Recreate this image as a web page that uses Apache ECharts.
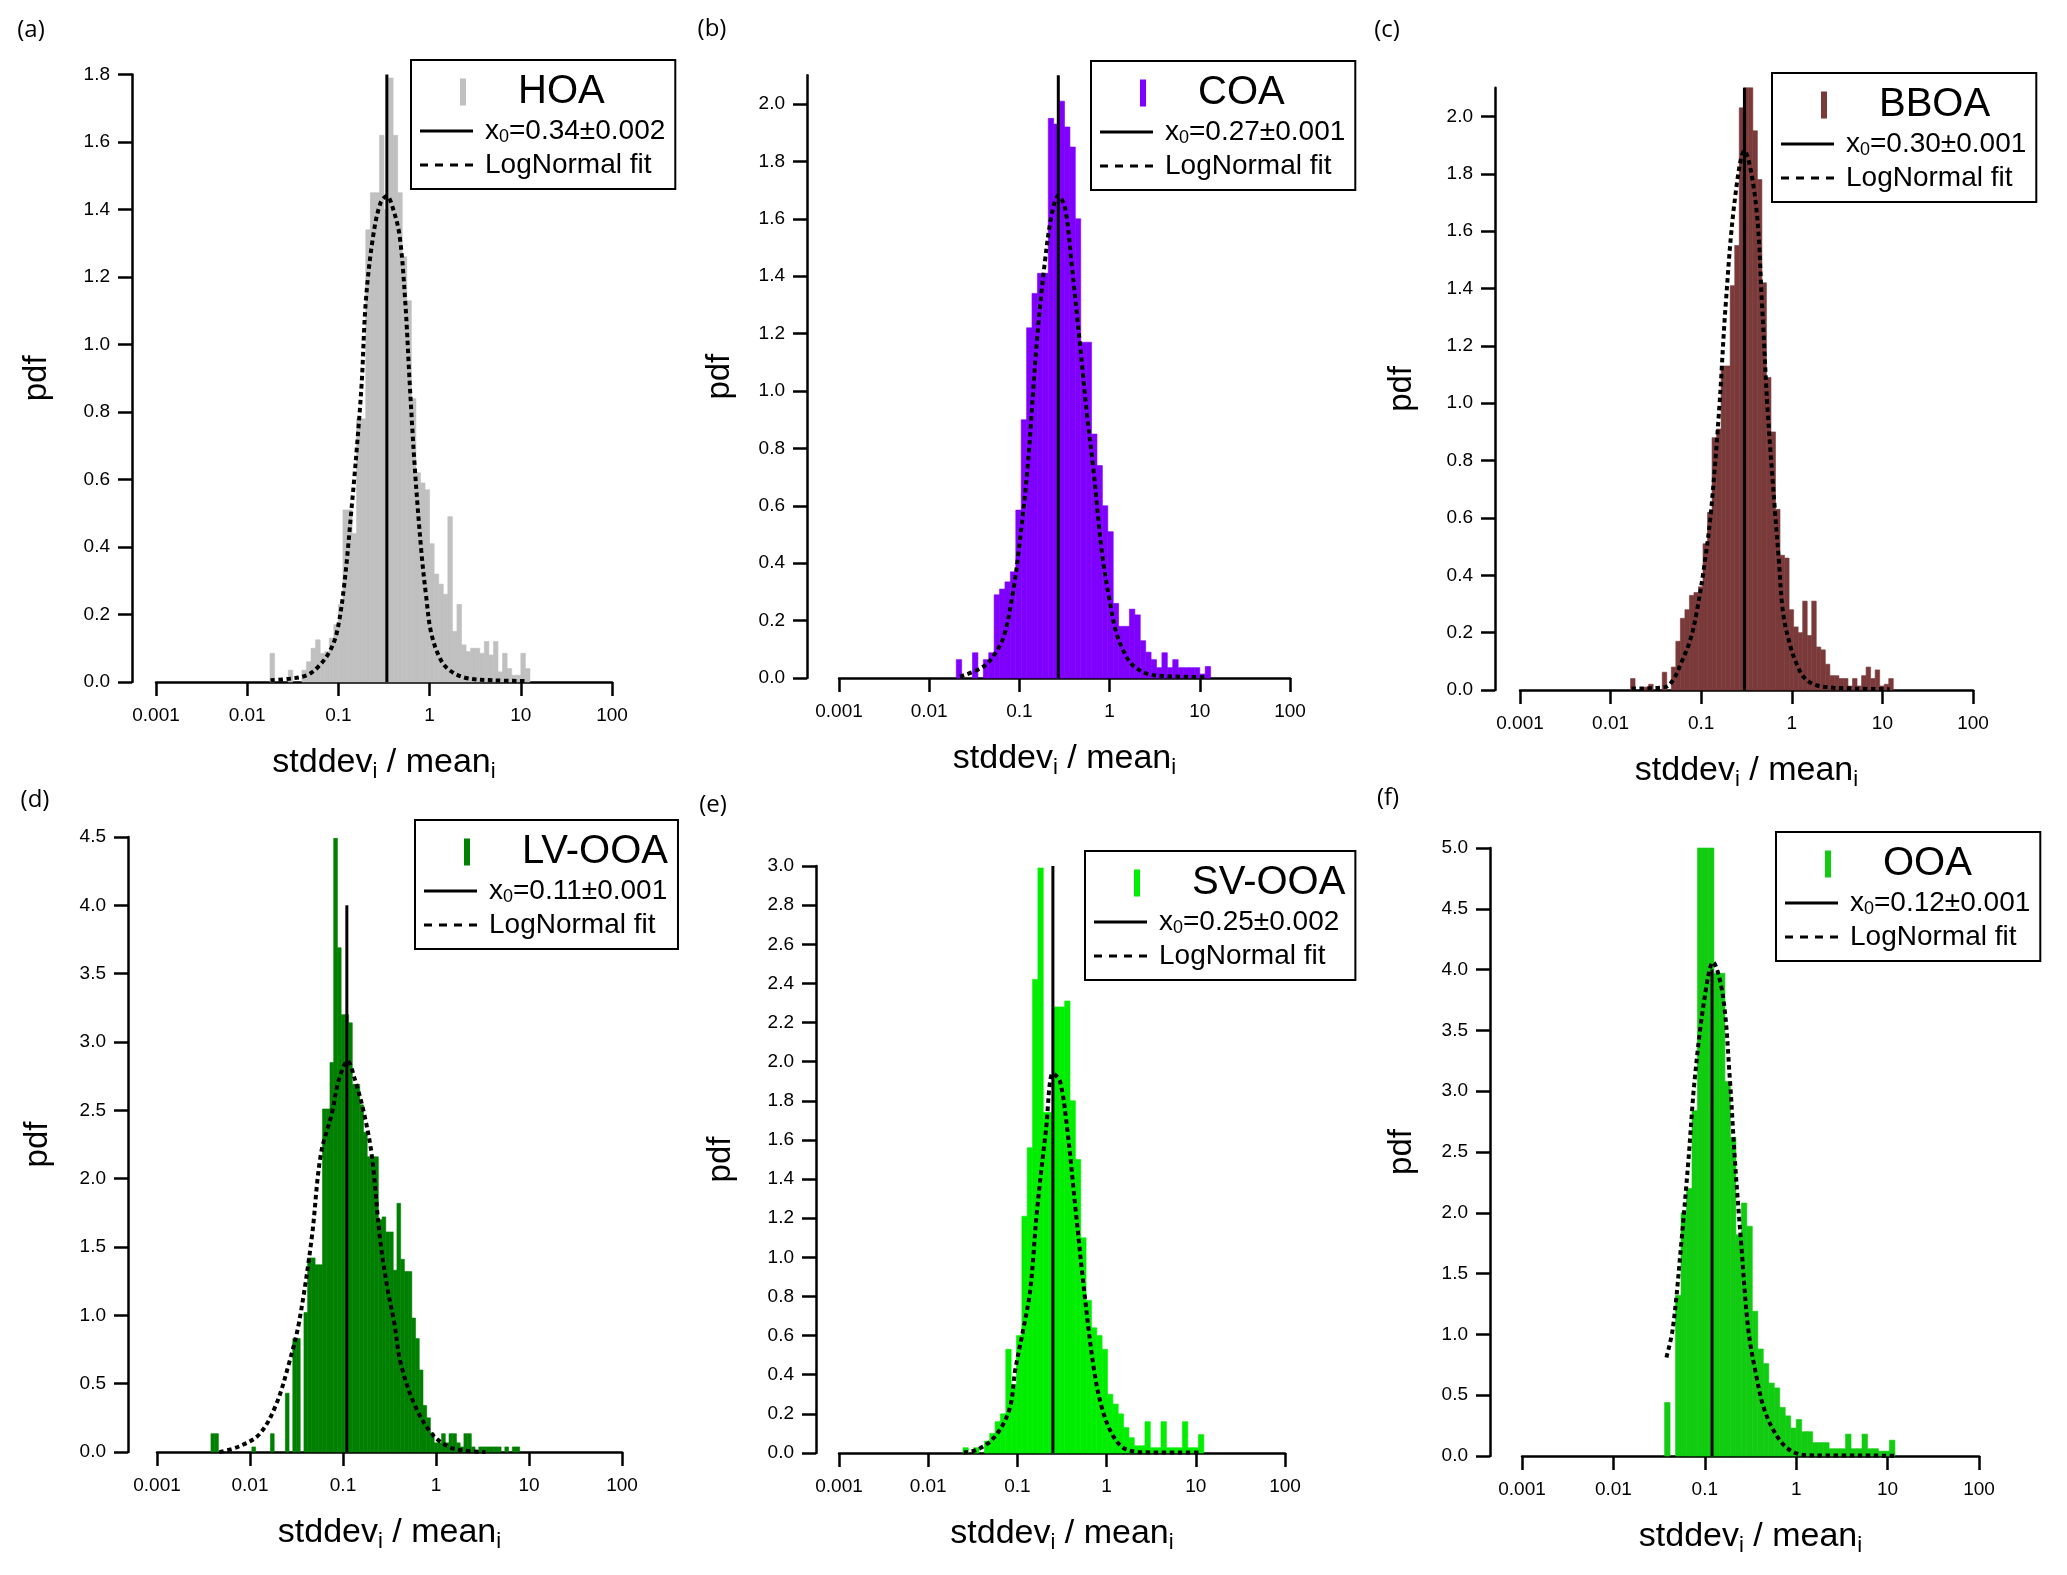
<!DOCTYPE html>
<html><head><meta charset="utf-8">
<script src="https://cdn.jsdelivr.net/npm/echarts@6/dist/echarts.min.js"></script>
<style>html,body{margin:0;padding:0;background:#fff}#c{width:2067px;height:1575px}</style>
</head><body><div id="c"></div><script>
// ---------- shared axis data ----------
const xTicks = [0.001, 0.01, 0.1, 1, 10, 100];
const xTickLabels = ['0.001', '0.01', '0.1', '1', '10', '100'];
const ticks18 = [0, 0.2, 0.4, 0.6, 0.8, 1.0, 1.2, 1.4, 1.6, 1.8];
const ticks20 = [0, 0.2, 0.4, 0.6, 0.8, 1.0, 1.2, 1.4, 1.6, 1.8, 2.0];
const ticks30 = [0, 0.2, 0.4, 0.6, 0.8, 1.0, 1.2, 1.4, 1.6, 1.8, 2.0, 2.2, 2.4, 2.6, 2.8, 3.0];
const ticks45 = [0, 0.5, 1.0, 1.5, 2.0, 2.5, 3.0, 3.5, 4.0, 4.5];
const ticks50 = [0, 0.5, 1.0, 1.5, 2.0, 2.5, 3.0, 3.5, 4.0, 4.5, 5.0];

// ---------- (a) HOA ----------
const hoaBinLog0 = -1.75, hoaBinStep = 0.05;
const hoaPdf = [0.085,0,0,0,0.035,0,0,0.035,0.06,0.10,0.125,0.085,0.09,0.13,0.17,0.23,0.51,0.51,0.44,0.78,0.78,1.34,1.45,1.45,1.62,1.40,1.79,1.62,1.45,1.26,1.13,0.84,0.62,0.59,0.57,0.41,0.32,0.29,0.26,0.49,0.15,0.23,0.11,0.09,0.10,0.10,0.085,0.12,0.08,0.12,0.03,0.085,0.04,0.02,0.02,0.085,0.04];
const hoaFit = [[0.018,0.005],[0.03,0.01],[0.045,0.02],[0.06,0.045],[0.08,0.09],[0.096,0.146],[0.115,0.28],[0.14,0.52],[0.16,0.70],[0.18,0.886],[0.20,1.13],[0.24,1.32],[0.29,1.42],[0.34,1.44],[0.40,1.40],[0.47,1.32],[0.54,1.13],[0.605,0.886],[0.686,0.64],[0.81,0.39],[0.92,0.25],[1.04,0.146],[1.3,0.07],[1.65,0.035],[2.5,0.012],[5,0.005],[12,0.003]];
const hoaX0 = 0.34, hoaX0Label = 'x0=0.34±0.002';

// ---------- (b) COA ----------
const coaBinLog0 = -1.70, coaBinStep = 0.06;
const coaPdf = [0.064,0,0,0.088,0,0.064,0.088,0.29,0.31,0.335,0.37,0.585,0.90,1.22,1.34,1.41,1.41,1.95,1.93,2.01,1.92,1.85,1.6,1.17,1.17,0.85,0.74,0.60,0.51,0.26,0.18,0.18,0.24,0.22,0.13,0.09,0.064,0.036,0.088,0.036,0.064,0.036,0.036,0.036,0.036,0.014,0.04];
const coaFit = [[0.022,0.005],[0.04,0.04],[0.055,0.09],[0.069,0.157],[0.085,0.3],[0.098,0.44],[0.123,0.73],[0.155,1.16],[0.19,1.44],[0.23,1.62],[0.27,1.68],[0.32,1.64],[0.38,1.44],[0.47,1.16],[0.56,0.92],[0.66,0.73],[0.82,0.44],[1.0,0.27],[1.19,0.157],[1.5,0.08],[1.83,0.043],[2.6,0.015],[3.9,0.007],[12,0.003]];
const coaX0 = 0.27, coaX0Label = 'x0=0.27±0.001';

// ---------- (c) BBOA ----------
const bboaBinLog0 = -1.78, bboaBinStep = 0.05;
const bboaPdf = [0.04,0,0,0.01,0.02,0,0,0.062,0,0.08,0.17,0.25,0.28,0.33,0.34,0.36,0.51,0.62,0.88,0.91,1.13,1.13,1.41,1.55,2.03,2.1,2.1,1.95,1.78,1.42,1.09,0.9,0.63,0.47,0.46,0.28,0.22,0.2,0.31,0.19,0.31,0.15,0.14,0.09,0.05,0.05,0.04,0.04,0.014,0.04,0.014,0.05,0.08,0.04,0.07,0.014,0.02,0.04];
const bboaFit = [[0.017,0.005],[0.04,0.01],[0.05,0.04],[0.06,0.094],[0.075,0.17],[0.089,0.27],[0.11,0.45],[0.129,0.63],[0.158,0.98],[0.186,1.34],[0.233,1.7],[0.30,1.88],[0.40,1.7],[0.47,1.34],[0.54,0.98],[0.65,0.63],[0.72,0.45],[0.80,0.27],[0.95,0.16],[1.12,0.094],[1.4,0.04],[2.0,0.014],[5,0.005],[12,0.003]];
const bboaX0 = 0.30, bboaX0Label = 'x0=0.30±0.001';

// ---------- (d) LV-OOA ----------
const lvBinLog0 = -2.42, lvBinStep = 0.04;
const lvPdf = [0.134,0.134,0,0,0,0,0,0,0,0,0,0.037,0,0,0,0,0.134,0,0,0,0.43,0,0.83,0.83,0,1.02,1.42,1.42,1.37,1.37,2.51,2.51,2.85,4.49,3.69,3.2,3.2,3.14,2.69,2.69,2.54,2.34,2.16,2.16,2.16,1.70,1.72,1.61,1.61,1.33,1.82,1.41,1.32,1.32,0.98,0.83,0.6,0.34,0.25,0.14,0.067,0.067,0.134,0.067,0.134,0.134,0.067,0.037,0.134,0.134,0.037,0,0.037,0.037,0.037,0.037,0.037,0.037,0,0.037,0,0.037,0.037];
const lvFit = [[0.0047,0.0],[0.0076,0.04],[0.0126,0.13],[0.0189,0.34],[0.0263,0.65],[0.0337,0.95],[0.046,1.56],[0.0575,2.17],[0.076,2.48],[0.09,2.72],[0.112,2.86],[0.135,2.72],[0.168,2.48],[0.204,2.17],[0.25,1.56],[0.30,1.2],[0.355,0.95],[0.417,0.65],[0.594,0.34],[0.91,0.13],[1.38,0.037],[2.0,0.01],[3.4,0.0]];
const lvX0 = 0.11, lvX0Label = 'x0=0.11±0.001';

// ---------- (e) SV-OOA ----------
const svBinLog0 = -1.61, svBinStep = 0.06;
const svPdf = [0.027,0,0.027,0,0.061,0.1,0.16,0.2,0.53,0.35,0.6,1.21,1.56,2.42,2.99,1.74,1.74,2.28,2.28,2.31,1.8,1.5,1.1,0.78,0.64,0.6,0.53,0.3,0.25,0.2,0.13,0.078,0.037,0.037,0.16,0.027,0.027,0.16,0.027,0.027,0.027,0.16,0.027,0.027,0.094];
const svFit = [[0.025,0.003],[0.035,0.016],[0.055,0.08],[0.081,0.22],[0.095,0.43],[0.115,0.62],[0.139,0.83],[0.166,1.24],[0.209,1.65],[0.25,1.94],[0.30,1.9],[0.363,1.65],[0.45,1.24],[0.56,0.83],[0.72,0.43],[0.9,0.22],[1.21,0.08],[1.71,0.016],[3.2,0.003],[11.6,0.002]];
const svX0 = 0.25, svX0Label = 'x0=0.25±0.002';

// ---------- (f) OOA ----------
const ooaBinLog0 = -1.44, ooaBinStep = 0.06;
const ooaPdf = [0.44,0,1.32,2.0,2.2,2.84,5.0,5.0,5.0,3.97,3.97,3.08,2.62,1.82,2.08,1.89,1.19,0.88,0.76,0.6,0.56,0.4,0.33,0.23,0.3,0.2,0.2,0.11,0.11,0.11,0.06,0.06,0.06,0.18,0.06,0.06,0.18,0.06,0.06,0.04,0.04,0.13];
const ooaFit = [[0.038,0.81],[0.0447,1.05],[0.055,1.73],[0.066,2.42],[0.0776,3.1],[0.1,3.78],[0.123,4.06],[0.158,3.78],[0.188,3.1],[0.214,2.42],[0.251,1.73],[0.298,1.05],[0.355,0.71],[0.454,0.37],[0.66,0.13],[0.966,0.027],[1.58,0.005],[12,0.003]];
const ooaX0 = 0.12, ooaX0Label = 'x0=0.12±0.001';

const fitLabel = 'LogNormal fit';

// ---------- panel definitions (data refs) ----------
const panelData = [
  {name:'HOA',    pdf:hoaPdf,  log0:hoaBinLog0,  step:hoaBinStep,  fit:hoaFit,  x0:hoaX0,  x0Label:hoaX0Label,  yMax:1.8, lineTop:1.8, yTicks:ticks18},
  {name:'COA',    pdf:coaPdf,  log0:coaBinLog0,  step:coaBinStep,  fit:coaFit,  x0:coaX0,  x0Label:coaX0Label,  yMax:2.1, lineTop:2.1, yTicks:ticks20},
  {name:'BBOA',   pdf:bboaPdf, log0:bboaBinLog0, step:bboaBinStep, fit:bboaFit, x0:bboaX0, x0Label:bboaX0Label, yMax:2.1, lineTop:2.1, yTicks:ticks20},
  {name:'LV-OOA', pdf:lvPdf,   log0:lvBinLog0,   step:lvBinStep,   fit:lvFit,   x0:lvX0,   x0Label:lvX0Label,   yMax:4.5, lineTop:4.0, yTicks:ticks45},
  {name:'SV-OOA', pdf:svPdf,   log0:svBinLog0,   step:svBinStep,   fit:svFit,   x0:svX0,   x0Label:svX0Label,   yMax:3.0, lineTop:3.0, yTicks:ticks30},
  {name:'OOA',    pdf:ooaPdf,  log0:ooaBinLog0,  step:ooaBinStep,  fit:ooaFit,  x0:ooaX0,  x0Label:ooaX0Label,  yMax:5.0, lineTop:4.0, yTicks:ticks50}
];

// ---------- layout & style (kept separate) ----------
const panelStyle = [
  {label:'(a)', labelXY:[31,30],   color:'#c0c0c0', grid:{left:156, top:74.6, width:456, height:607.4}, yOffset:24, yNameGap:79, legend:{left:411, top:60}},
  {label:'(b)', labelXY:[712,29],  color:'#7f00ff', grid:{left:839, top:75.3, width:451, height:602.7}, yOffset:32, yNameGap:71, legend:{left:1091, top:61}},
  {label:'(c)', labelXY:[1387,30], color:'#7a3a3a', grid:{left:1520, top:87.8, width:453, height:602.2}, yOffset:25, yNameGap:77, legend:{left:1772, top:73}},
  {label:'(d)', labelXY:[35,800],  color:'#008000', grid:{left:157, top:837, width:465, height:615}, yOffset:29, yNameGap:74, legend:{left:415, top:820}},
  {label:'(e)', labelXY:[713,805], color:'#00ee00', grid:{left:839, top:866, width:446, height:587}, yOffset:23, yNameGap:79, legend:{left:1085, top:851}},
  {label:'(f)', labelXY:[1388,798],color:'#11cc11', grid:{left:1522, top:848, width:457, height:608}, yOffset:32, yNameGap:72, legend:{left:1776, top:832}}
];

const FONT = '"Liberation Sans", Arial, sans-serif';
const binIcon = 'path://M0,13h0.01v0.01h-0.01zM33,0h6v27h-6z';
const solidIcon = 'path://M0,0h53v3.2h-53z';
const dashIcon = 'path://M0,0h8v3.2h-8zM15,0h8v3.2h-8zM30,0h8v3.2h-8zM45,0h8v3.2h-8z';

function binData(log0, step, vals) {
  const out = [];
  vals.forEach(function (v, i) {
    if (v > 0) out.push([Math.pow(10, log0 + i * step), Math.pow(10, log0 + (i + 1) * step), v]);
  });
  return out;
}
function barRender(color) {
  return function (params, api) {
    const a = api.coord([api.value(0), 0]);
    const b = api.coord([api.value(1), api.value(2)]);
    return {type:'rect', shape:{x:a[0], y:b[1], width:b[0]-a[0], height:a[1]-b[1]},
            style:{fill:color, stroke:color, lineWidth:0.6}};
  };
}
const axisLineStyle = {color:'#000', width:2.5};

const grids = [], xAxes = [], yAxes = [], series = [], legends = [], graphics = [];
panelData.forEach(function (P, i) {
  const S = panelStyle[i];
  grids.push(Object.assign({outerBoundsMode:'none', containLabel:false}, S.grid));
  xAxes.push({
    type:'log', logBase:10, gridIndex:i, min:0.001, max:100,
    axisLine:{onZero:false, lineStyle:axisLineStyle},
    axisTick:{length:14, lineStyle:axisLineStyle, customValues:xTicks},
    minorTick:{show:false}, splitLine:{show:false}, minorSplitLine:{show:false},
    axisLabel:{customValues:xTicks, fontSize:19, color:'#000', fontFamily:FONT, margin:24,
      formatter:function (v) { return xTickLabels[Math.round(Math.log10(v)) + 3]; }},
    name:'stddev{s|i} / mean{s|i}', nameLocation:'middle', nameGap:61,
    nameTextStyle:{fontSize:34, color:'#000', fontFamily:FONT, lineHeight:40,
      rich:{s:{fontSize:22, fontFamily:FONT, color:'#000', verticalAlign:'bottom', lineHeight:12}}}
  });
  yAxes.push({
    type:'value', gridIndex:i, min:0, max:P.yMax, offset:S.yOffset,
    axisLine:{show:true, onZero:false, lineStyle:axisLineStyle},
    axisTick:{show:true, length:14, lineStyle:axisLineStyle, customValues:P.yTicks},
    splitLine:{show:false},
    axisLabel:{customValues:P.yTicks, fontSize:19, color:'#000', fontFamily:FONT, margin:22,
      formatter:function (v) { return v.toFixed(1); }},
    name:'pdf', nameLocation:'middle', nameGap:S.yNameGap,
    nameTextStyle:{fontSize:33, color:'#000', fontFamily:FONT}
  });
  series.push({
    type:'custom', name:P.name, xAxisIndex:i, yAxisIndex:i, coordinateSystem:'cartesian2d',
    itemStyle:{color:S.color}, encode:{x:[0,1], y:2}, z:1, silent:true,
    renderItem:barRender(S.color), data:binData(P.log0, P.step, P.pdf)
  });
  series.push({
    type:'line', name:P.x0Label, xAxisIndex:i, yAxisIndex:i, symbol:'none', z:3, silent:true,
    itemStyle:{color:'#000'}, lineStyle:{color:'#000', width:3},
    data:[[P.x0, 0], [P.x0, P.lineTop]]
  });
  series.push({
    type:'line', name:fitLabel, xAxisIndex:i, yAxisIndex:i, symbol:'none', z:4, silent:true,
    smooth:0.35, itemStyle:{color:'#000'}, lineStyle:{color:'#000', width:4, type:[4.5,3.5]},
    data:P.fit
  });
  legends.push({
    left:S.legend.left, top:S.legend.top, orient:'vertical', selectedMode:false,
    itemWidth:53, itemHeight:27, itemGap:5, padding:[12,10,10,9],
    borderColor:'#000', borderWidth:2, backgroundColor:'#fff',
    data:[{name:P.name, icon:binIcon}, {name:P.x0Label, icon:solidIcon}, {name:fitLabel, icon:dashIcon}],
    formatter:function (name) {
      if (name === P.name) return '{h|' + name + '}';
      if (name.indexOf('x0=') === 0) return '{tx|x}{s|0}{t|' + name.slice(2) + '}';
      return '{tx|' + name + '}';
    },
    textStyle:{color:'#000', fontFamily:FONT, rich:{
      h:{fontSize:40, lineHeight:40, padding:[0,0,0,40], fontFamily:FONT, color:'#000'},
      tx:{fontSize:28, lineHeight:30, padding:[0,0,0,7], fontFamily:FONT, color:'#000'},
      t:{fontSize:28, lineHeight:30, fontFamily:FONT, color:'#000'},
      s:{fontSize:18, lineHeight:7, verticalAlign:'bottom', fontFamily:FONT, color:'#000'}
    }}
  });
  graphics.push({type:'text', x:S.labelXY[0], y:S.labelXY[1], silent:true,
    style:{text:S.label, fontSize:24, fontFamily:'"Open Sans", sans-serif', fill:'#000', align:'center', verticalAlign:'middle'}});
});

const chart = echarts.init(document.getElementById('c'), null, {renderer:'canvas'});
chart.setOption({
  backgroundColor:'#fff', animation:false,
  textStyle:{fontFamily:FONT},
  grid:grids, xAxis:xAxes, yAxis:yAxes, series:series, legend:legends, graphic:graphics
});
</script></body></html>
